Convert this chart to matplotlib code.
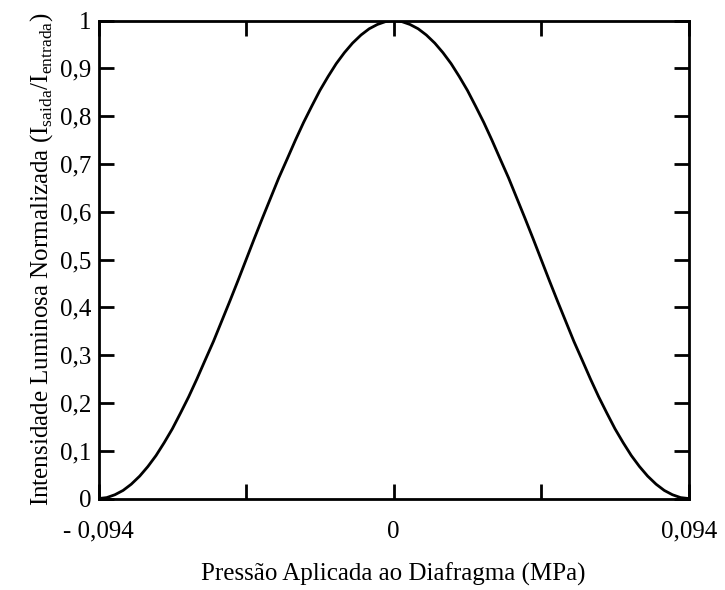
import matplotlib
matplotlib.use("Agg")
import matplotlib.pyplot as plt

plt.rcParams['font.family'] = ['Liberation Serif', 'DejaVu Serif']
plt.rcParams['mathtext.fontset'] = 'custom'
plt.rcParams['mathtext.rm'] = 'Liberation Serif'

# Metade direita da curva; a curva é simétrica em torno de 0
pressao_dir = [0.0, 0.0026, 0.0052, 0.0078, 0.0104, 0.0131, 0.0157, 0.0183, 0.0209,
               0.0235, 0.0261, 0.0287, 0.0313, 0.0339, 0.0366, 0.0392, 0.0418, 0.0444,
               0.0470, 0.0496, 0.0522, 0.0548, 0.0574, 0.0601, 0.0627, 0.0653, 0.0679,
               0.0705, 0.0731, 0.0757, 0.0783, 0.0809, 0.0836, 0.0862, 0.0888, 0.0914,
               0.094]
intens_dir = [1.0, 0.998, 0.992, 0.983, 0.970, 0.953, 0.933, 0.910, 0.883,
              0.854, 0.821, 0.787, 0.750, 0.711, 0.671, 0.629, 0.587, 0.544,
              0.500, 0.456, 0.413, 0.371, 0.329, 0.289, 0.250, 0.213, 0.179,
              0.146, 0.117, 0.090, 0.067, 0.047, 0.030, 0.017, 0.008, 0.002,
              0.0]

pressao = [-p for p in pressao_dir[:0:-1]] + pressao_dir
intensidade = intens_dir[:0:-1] + intens_dir

xticks = [-0.094, -0.047, 0, 0.047, 0.094]
xlabels = ['- 0,094', '', '0', '', '0,094']
yticks = [0, 0.1, 0.2, 0.3, 0.4, 0.5, 0.6, 0.7, 0.8, 0.9, 1.0]
ylabels = ['0', '0,1', '0,2', '0,3', '0,4', '0,5', '0,6', '0,7', '0,8', '0,9', '1']

fig = plt.figure(figsize=(7.25, 5.9), dpi=100)
ax = fig.add_axes([0.136, 0.155, 0.814, 0.81])

ax.plot(pressao, intensidade, color='black', lw=2)

ax.set_xlim(-0.094, 0.094)
ax.set_ylim(0, 1.0)
ax.set_xticks(xticks)
ax.set_xticklabels(xlabels)
ax.set_yticks(yticks)
ax.set_yticklabels(ylabels)
ax.tick_params(direction='in', length=11, width=2, labelsize=18,
               top=True, right=True)
ax.tick_params(axis='x', pad=16)
ax.tick_params(axis='y', pad=5)
for s in ax.spines.values():
    s.set_linewidth(2)

ax.set_xlabel('Pressão Aplicada ao Diafragma (MPa)', fontsize=18, labelpad=14)
ax.set_ylabel(r'Intensidade Luminosa Normalizada (I$_{\mathrm{saida}}$/I$_{\mathrm{entrada}}$)',
              fontsize=18, labelpad=4)

fig.savefig('out.png', dpi=100)
